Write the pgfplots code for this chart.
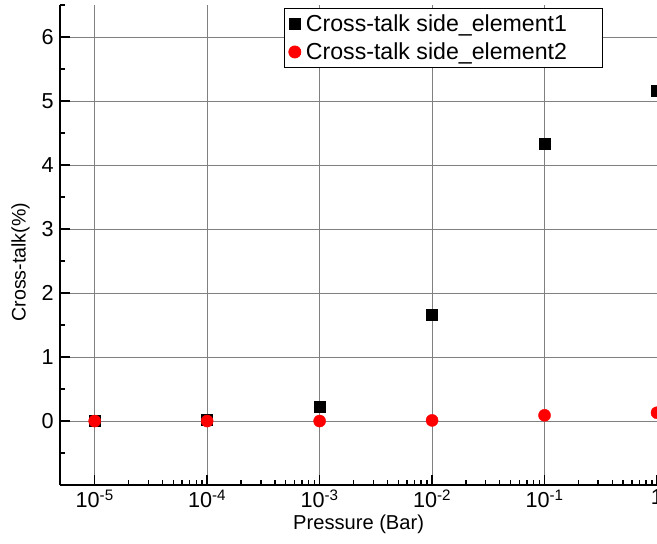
\documentclass[border=0pt]{standalone}
\usepackage{pgfplots}
\pgfplotsset{compat=1.18}
\usepackage{fontspec}
\setmainfont{Liberation Sans}
\begin{document}
\begin{tikzpicture}[trim axis right]
\begin{axis}[
  width=593pt, height=477pt, scale only axis,
  xmode=log, xmin=4.94e-6, xmax=1,
  ymin=-1, ymax=6.5,
  axis x line*=bottom, axis y line*=left,
  axis line style={-, line width=1.8pt},
  xtick={1e-5,1e-4,1e-3,1e-2,1e-1,1},
  xticklabels={10\textsuperscript{-5},10\textsuperscript{-4},10\textsuperscript{-3},10\textsuperscript{-2},10\textsuperscript{-1},1},
  ytick={0,1,2,3,4,5,6},
  minor ytick={-0.5,0.5,1.5,2.5,3.5,4.5,5.5,6.5},
  tick align=inside,
  major tick length=10pt, minor tick length=5pt,
  every tick/.style={black, line width=1.4pt},
  grid=major,
  major grid style={black!50, line width=0.9pt},
  /pgf/number format/assume math mode=true,
  tick label style={font=\fontsize{21.5}{24}\selectfont},
  yticklabel style={xshift=-3pt},
  xticklabel style={yshift=-1pt},
  xlabel={Pressure (Bar)}, ylabel={Cross-talk(\%)},
  xlabel style={font=\fontsize{20}{23}\selectfont, yshift=0pt},
  ylabel style={font=\fontsize{19.5}{22}\selectfont, yshift=5pt, xshift=-17pt},
  legend style={at={(0.3756,0.9937)}, anchor=north west, draw=black, line width=0.8pt, fill=white,
    font=\fontsize{23}{26}\selectfont, row sep=6pt, inner sep=4pt,
    nodes={inner xsep=5pt}},
  legend cell align=left,
  clip=false,
]
\addplot[only marks, mark=square*, mark size=5.5pt, black] coordinates {
 (1e-5,0) (1e-4,0.02) (1e-3,0.23) (1e-2,1.66) (1e-1,4.33) (1,5.16)};
\addlegendentry{Cross-talk side\_element1\rule{26pt}{0pt}}
\addplot[only marks, mark=*, mark size=6pt, red] coordinates {
 (1e-5,0) (1e-4,0) (1e-3,0) (1e-2,0.01) (1e-1,0.09) (1,0.13)};
\addlegendentry{Cross-talk side\_element2\rule{26pt}{0pt}}
\end{axis}
\path ([xshift=-8pt,yshift=-6pt]current bounding box.south west);
\path ([yshift=5pt]current axis.north);
\end{tikzpicture}
\end{document}
